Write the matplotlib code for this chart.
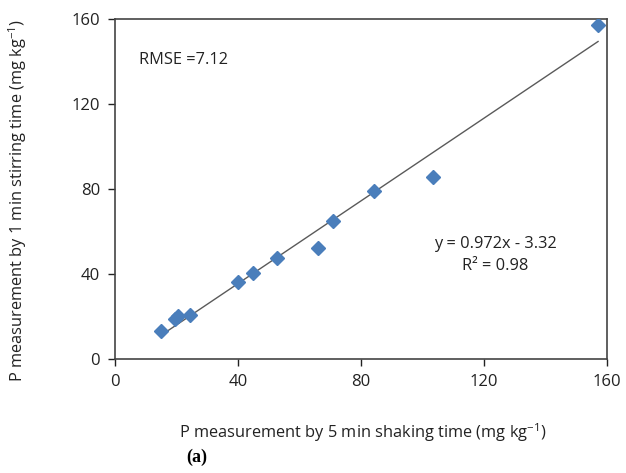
import matplotlib.pyplot as plt
import numpy as np

plt.rcParams['font.family'] = ['Open Sans', 'DejaVu Sans']

# P by 5 min shaking (x) vs 1 min stirring (y), mg/kg
shake = [14.8, 19.4, 20.5, 24.3, 39.8, 44.9, 52.7, 66.0, 70.9, 84.1, 103.4, 157.1]
stir = [13.2, 18.8, 20.2, 20.7, 36.4, 40.5, 47.5, 52.1, 64.9, 79.2, 85.8, 157.2]
slope, icpt = 0.972, -3.32
ticks = [0, 40, 80, 120, 160]

fig = plt.figure(figsize=(6.26, 4.73), dpi=100)
ax = fig.add_axes([0.1842, 0.241, 0.7854, 0.719])

xl = np.array([min(shake), max(shake)])
ax.plot(xl, slope * xl + icpt, color='#5a5a5a', lw=1)
ax.plot(shake, stir, 'D', color='#4a7ebb', ms=7, mec='#4a7ebb', zorder=3)

ax.set_xlim(0, 160)
ax.set_ylim(0, 160)
ax.set_xticks(ticks)
ax.set_yticks(ticks)
ax.tick_params(direction='out', length=5, width=1, labelsize=12, colors='#222222', pad=6)
for s in ax.spines.values():
    s.set_color('#444444')
    s.set_linewidth(1.2)

fs = 11.8
ax.text(7.8, 140.7, 'RMSE =7.12', fontsize=fs, va='center', color='#222222')
ax.text(123.6, 54, 'y = 0.972x - 3.32', fontsize=fs, ha='center', va='center', color='#222222')
ax.text(123.6, 43.8, 'R² = 0.98', fontsize=fs, ha='center', va='center', color='#222222')

fig.text(363 / 626, 1 - 433 / 473, r'P measurement by 5 min shaking time (mg kg$^{\mathregular{-1}}$)',
         fontsize=fs, ha='center', va='center', color='#222222')
fig.text(18 / 626, 1 - 200 / 473, r'P measurement by 1 min stirring time (mg kg$^{\mathregular{-1}}$)',
         fontsize=fs, ha='center', va='center', rotation=90, color='#222222')
fig.text(197 / 626, 1 - 457 / 473, '(a)', fontsize=13, fontweight='bold',
         family='Liberation Serif', ha='center', va='center')

fig.savefig('out.png', dpi=100)
